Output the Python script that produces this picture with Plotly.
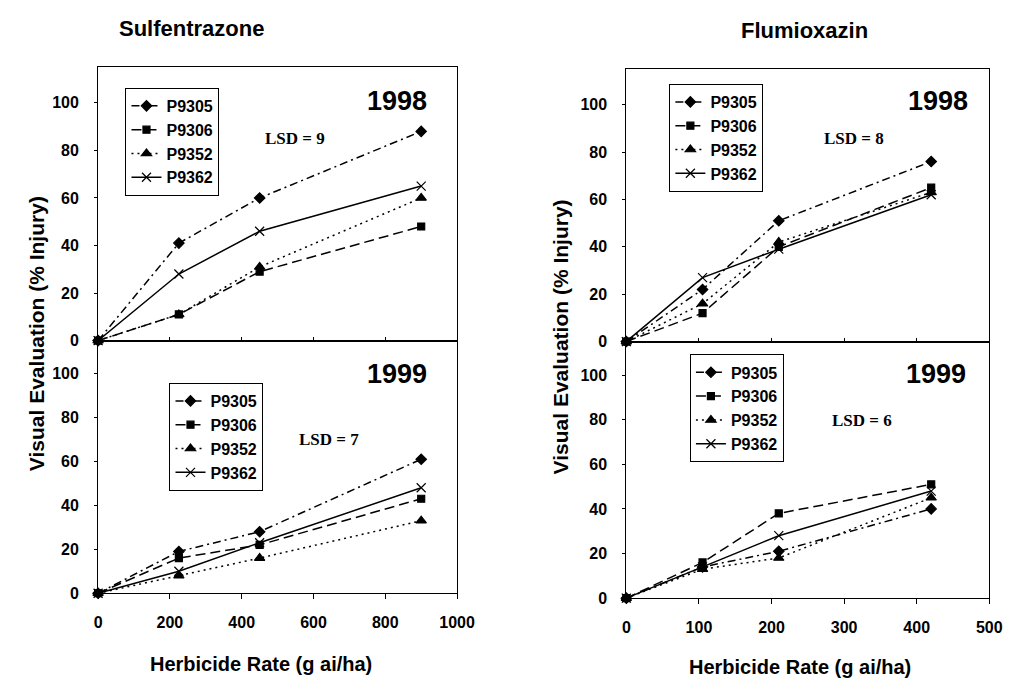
import plotly.graph_objects as go

W, H = 1011, 687

# ---------------- data ----------------
series_names = ["P9305", "P9306", "P9352", "P9362"]

sulf_rates = [0, 225, 450, 900]
flum_rates = [0, 105, 210, 420]

sulf_1998_P9305 = [0, 41, 60, 88]
sulf_1998_P9306 = [0, 11, 29, 48]
sulf_1998_P9352 = [0, 11, 31, 60]
sulf_1998_P9362 = [0, 28, 46, 65]

sulf_1999_P9305 = [0, 19, 28, 61]
sulf_1999_P9306 = [0, 16, 22, 43]
sulf_1999_P9352 = [0, 8, 16, 33]
sulf_1999_P9362 = [0, 10, 23, 48]

flum_1998_P9305 = [0, 22, 51, 76]
flum_1998_P9306 = [0, 12, 40, 65]
flum_1998_P9352 = [0, 16, 42, 63]
flum_1998_P9362 = [0, 27, 39, 62]

flum_1999_P9305 = [0, 14, 21, 40]
flum_1999_P9306 = [0, 16, 38, 51]
flum_1999_P9352 = [0, 13, 18, 45]
flum_1999_P9362 = [0, 14, 28, 48]

y_ticks = [0, 20, 40, 60, 80, 100]
sulf_x_ticks = [0, 200, 400, 600, 800, 1000]
flum_x_ticks = [0, 100, 200, 300, 400, 500]

lsd_labels = ["LSD = 9", "LSD = 7", "LSD = 8", "LSD = 6"]
year_labels = ["1998", "1999", "1998", "1999"]

# ---------------- styles ----------------
SANS = "Liberation Sans, Arial, sans-serif"
SERIF = "Liberation Serif, Times New Roman, serif"
styles = {
    "P9305": dict(dash="8px,4px,2px,4px", symbol="diamond", size=8),
    "P9306": dict(dash="10px,5px", symbol="square", size=7),
    "P9352": dict(dash="2px,4px", symbol="triangle-up", size=9),
    "P9362": dict(dash="solid", symbol="x-thin-open", size=9),
}


def fx(px):
    return px / W


def fy(py):
    return 1 - py / H


fig = go.Figure()

panels = [
    ("x", "y", sulf_rates,
     [sulf_1998_P9305, sulf_1998_P9306, sulf_1998_P9352, sulf_1998_P9362], "legend"),
    ("x2", "y2", sulf_rates,
     [sulf_1999_P9305, sulf_1999_P9306, sulf_1999_P9352, sulf_1999_P9362], "legend2"),
    ("x3", "y3", flum_rates,
     [flum_1998_P9305, flum_1998_P9306, flum_1998_P9352, flum_1998_P9362], "legend3"),
    ("x4", "y4", flum_rates,
     [flum_1999_P9305, flum_1999_P9306, flum_1999_P9352, flum_1999_P9362], "legend4"),
]

for xa, ya, xs, ys_list, leg in panels:
    for name, ys in zip(series_names, ys_list):
        st = styles[name]
        fig.add_trace(go.Scatter(
            x=xs, y=ys, name=name, mode="lines+markers",
            xaxis=xa, yaxis=ya, legend=leg, legendgroup=leg + name,
            line=dict(color="black", width=1.5, dash=st["dash"]),
            marker=dict(symbol=st["symbol"], size=st["size"], color="black",
                        line=dict(color="black", width=1.2)),
            cliponaxis=False,
        ))

tickfont = dict(family=SANS, size=16, color="black", weight="bold")
base = dict(showline=True, linecolor="black", linewidth=1, mirror=True,
            showgrid=False, zeroline=False, tickfont=tickfont, tickcolor="black")
yax = dict(base, ticks="outside", ticklen=3, ticklabelstandoff=12,
           range=[0, 115], tickvals=y_ticks)
xax_top = dict(base, ticks="inside", ticklen=4, showticklabels=False)
xax_bot = dict(base, ticks="outside", ticklen=5, ticklabelstandoff=10)

# domains (pixel based)
L_x = [fx(88), fx(455)]
R_x = [fx(628), fx(999)]
L_top = [fy(337), fy(60)]
L_bot = [fy(593), fy(337)]
R_top = [fy(338), fy(62)]
R_bot = [fy(598), fy(338)]

fig.update_layout(
    xaxis=dict(xax_top, domain=L_x, anchor="y", range=[0, 1000], tickvals=sulf_x_ticks),
    yaxis=dict(yax, domain=L_top, anchor="x"),
    xaxis2=dict(xax_bot, domain=L_x, anchor="y2", range=[0, 1000], tickvals=sulf_x_ticks),
    yaxis2=dict(yax, domain=L_bot, anchor="x2"),
    xaxis3=dict(xax_top, domain=R_x, anchor="y3", range=[0, 500], tickvals=flum_x_ticks),
    yaxis3=dict(yax, domain=R_top, anchor="x3"),
    xaxis4=dict(xax_bot, domain=R_x, anchor="y4", range=[0, 500], tickvals=flum_x_ticks),
    yaxis4=dict(yax, domain=R_bot, anchor="x4"),
)

leg_common = dict(bgcolor="white", bordercolor="black", borderwidth=1,
                  font=dict(family=SANS, size=16, color="black", weight="bold"),
                  xanchor="left", yanchor="top", tracegroupgap=4,
                  itemwidth=30, traceorder="normal")
fig.update_layout(
    legend=dict(x=fx(116), y=fy(81), **leg_common),
    legend2=dict(x=fx(161), y=fy(380), **leg_common),
    legend3=dict(x=fx(672), y=fy(77), **leg_common),
    legend4=dict(x=fx(693), y=fy(351), **leg_common),
)

annotations = []


def ann(text, x, y, size, family=SANS, angle=0):
    annotations.append(dict(text=text, x=fx(x), y=fy(y), xref="paper", yref="paper",
                            showarrow=False, textangle=angle, xanchor="center",
                            yanchor="middle",
                            font=dict(family=family, size=size, color="black", weight="bold")))


ann("Sulfentrazone", 183, 21, 22)
ann("Flumioxazin", 810, 23, 22)
ann("Visual Evaluation (% Injury)", 25, 330, 21, angle=-90)
ann("Visual Evaluation (% Injury)", 561, 333, 21, angle=-90)
ann("Herbicide Rate (g ai/ha)", 255, 665, 20)
ann("Herbicide Rate (g ai/ha)", 806, 668, 20)

year_pos = [(394, 94), (394, 371), (947, 94), (945, 371)]
lsd_pos = [(289, 132), (324, 437), (861, 132), (869, 418)]
for t, (x, y) in zip(year_labels, year_pos):
    ann(t, x, y, 27)
for t, (x, y) in zip(lsd_labels, lsd_pos):
    ann(t, x, y, 17, family=SERIF)

fig.update_layout(
    annotations=annotations,
    width=W, height=H,
    margin=dict(l=0, r=0, t=0, b=0),
    paper_bgcolor="white", plot_bgcolor="white",
    showlegend=True,
)

fig.write_html("out.html")
